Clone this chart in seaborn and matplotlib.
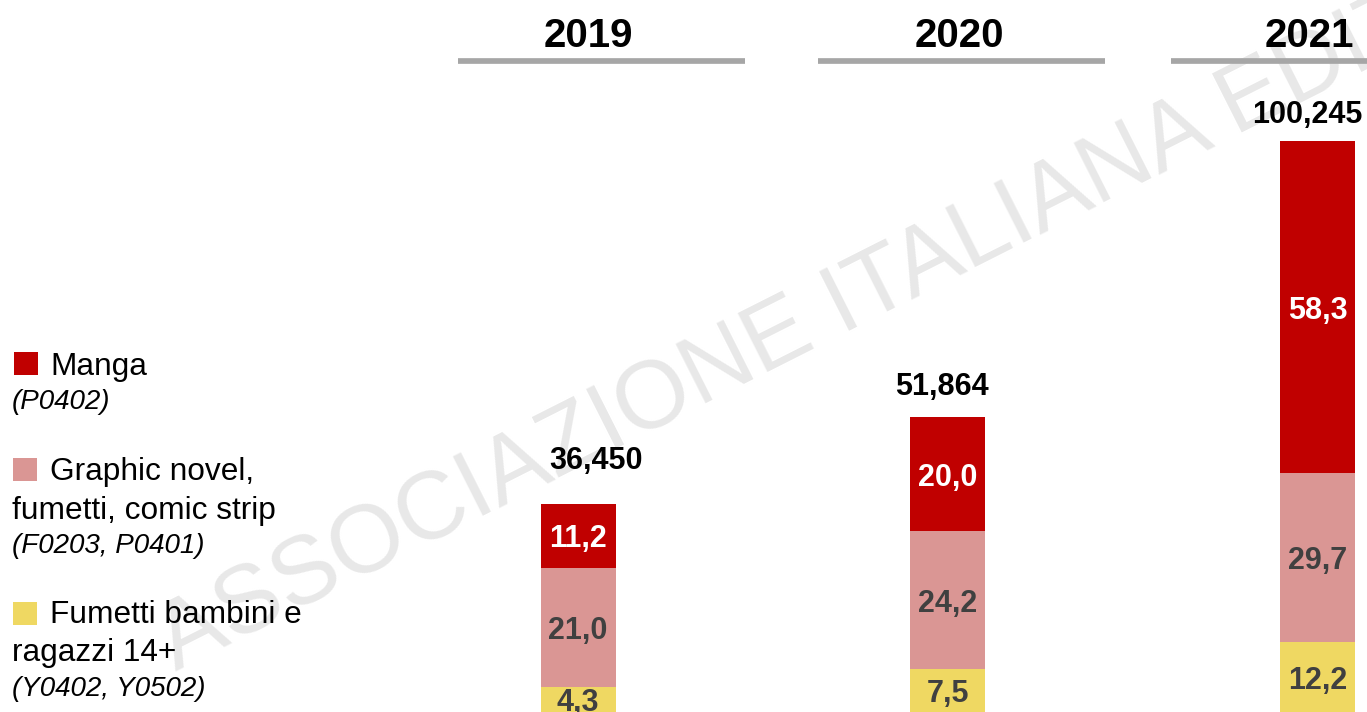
import numpy as np
import pandas as pd
import matplotlib
matplotlib.use("Agg")
import matplotlib.pyplot as plt
from matplotlib.patches import Rectangle
import seaborn as sns

# ---------------- data ----------------
years = ["2019", "2020", "2021"]
manga = [11.2, 20.0, 58.3]          # Manga (P0402)
graphic = [21.0, 24.2, 29.7]        # Graphic novel, fumetti, comic strip
kids = [4.3, 7.5, 12.2]             # Fumetti bambini e ragazzi 14+
totals = [36.450, 51.864, 100.245]  # totals shown above the bars

legend_titles = [["Manga"],
                 ["Graphic novel,", "fumetti, comic strip"],
                 ["Fumetti bambini e", "ragazzi 14+"]]
legend_codes = ["(P0402)", "(F0203, P0401)", "(Y0402, Y0502)"]
watermark = "ASSOCIAZIONE ITALIANA EDITORI"

# ---------------- style ----------------
C_MANGA = "#C00000"
C_GRAPHIC = "#DA9694"
C_KIDS = "#EFD862"
C_LINE = "#A6A6A6"
C_SEG = "#404040"
C_WM = "#E8E8E8"

W, H, DPI = 1367, 712, 100
X0_PX = 578.0        # pixel x of first bar centre
PXX = 369.75         # pixels per category
PXY = 5.70           # pixels per unit of value
BAR_W = 75 / PXX

sns.set_theme(style="white")
plt.rcParams["font.family"] = ["Liberation Sans", "DejaVu Sans"]

fig = plt.figure(figsize=(W / DPI, H / DPI), dpi=DPI)
fig.patch.set_facecolor("white")
ax = fig.add_axes([0, 0, 1, 1])

df = pd.DataFrame({"year": years, "manga": manga, "graphic": graphic, "kids": kids})
df["top"] = df["kids"] + df["graphic"] + df["manga"]
df["mid2"] = df["kids"] + df["graphic"]

# stacked bars drawn as overlapping cumulative bars
for col, c in [("top", C_MANGA), ("mid2", C_GRAPHIC), ("kids", C_KIDS)]:
    sns.barplot(data=df, x="year", y=col, color=c, saturation=1, width=BAR_W,
                errorbar=None, linewidth=0, ax=ax, zorder=2)

ax.set_xlim(-X0_PX / PXX, (W - X0_PX) / PXX)
ax.set_ylim(0, H / PXY)
ax.set_axis_off()

# segment labels
for i in range(len(years)):
    k, g, m = kids[i], graphic[i], manga[i]
    segs = [(k / 2, k, C_SEG), (k + g / 2, g, C_SEG), (k + g + m / 2, m, "white")]
    for y, v, col in segs:
        ax.text(i, y, f"{v:.1f}".replace(".", ","), ha="center", va="center_baseline",
                fontsize=22, fontweight="bold", color=col, zorder=4)

# totals above bars (offsets in pixels, as laid out in the source slide)
tot_off = [(18, 46), (-6, 34), (-10, 29)]
for i, t in enumerate(totals):
    s = f"{t:.3f}".replace(".", ",")
    ax.annotate(s, xy=(i, df["top"][i]), xytext=tot_off[i], textcoords="offset pixels",
                ha="center", va="center_baseline", fontsize=22, fontweight="bold",
                color="black", zorder=4)

# year headers with grey rule underneath
head_text_off = [10, 12, -8]
head_line_off = [23.5, 13.5, -3]
line_len = 287
y_head = (H - 32) / PXY
y_rule = (H - 61) / PXY
for i, yr in enumerate(years):
    ax.text(i + head_text_off[i] / PXX, y_head, yr, ha="center", va="center_baseline",
            fontsize=29, fontweight="bold", color="black", zorder=4)
    xc = i + head_line_off[i] / PXX
    ax.hlines(y_rule, xc - line_len / 2 / PXX, xc + line_len / 2 / PXX,
              color=C_LINE, lw=4.1, zorder=3)

# watermark behind everything
ax.text(176 / W, 1 - 671 / H, watermark, transform=ax.transAxes, rotation=26.8,
        rotation_mode="anchor", ha="left", va="baseline", fontsize=69,
        color=C_WM, zorder=0, clip_on=True)

# legend on the left
leg_colors = [C_MANGA, C_GRAPHIC, C_KIDS]
sq_pos = [(14, 352), (13, 458), (13, 602)]
first_base = [375, 480, 623]
line_step = 38.5
for j in range(3):
    sx, sy = sq_pos[j]
    fig.add_artist(Rectangle((sx / W, 1 - (sy + 23) / H), 24 / W, 23 / H,
                             transform=fig.transFigure, facecolor=leg_colors[j],
                             edgecolor="none"))
    base = first_base[j]
    for n, line in enumerate(legend_titles[j]):
        x = 50 if n == 0 else 12
        fig.text(x / W, 1 - (base + n * line_step) / H, line, fontsize=22.8,
                 color="black", ha="left", va="baseline")
    nb = base + len(legend_titles[j]) * line_step - 4
    fig.text(12 / W, 1 - nb / H, legend_codes[j], fontsize=20, style="italic",
             color="black", ha="left", va="baseline")

fig.savefig("out.png", dpi=DPI, facecolor="white")
